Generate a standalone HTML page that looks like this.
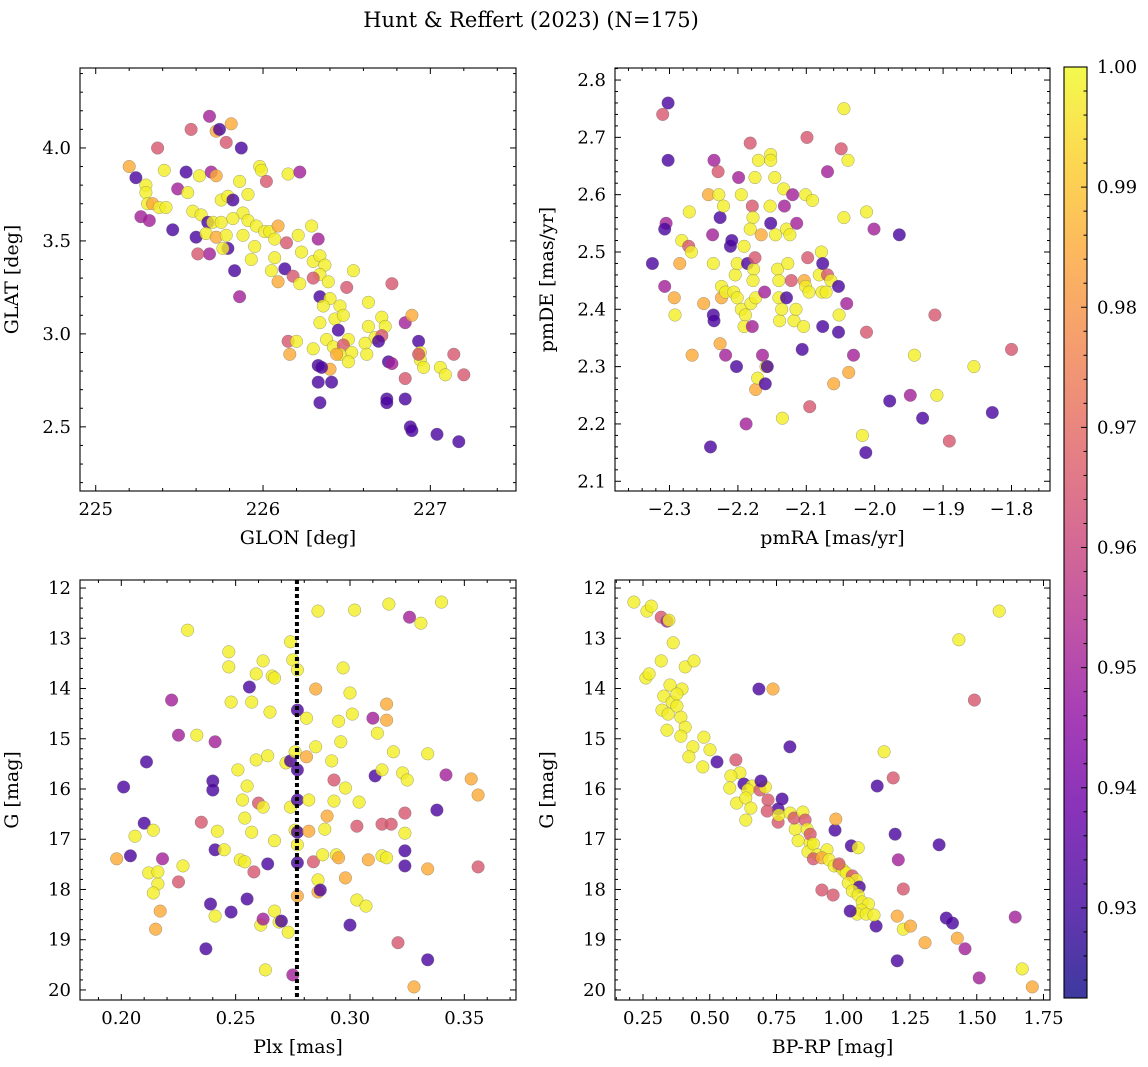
<!DOCTYPE html>
<html><head><meta charset="utf-8"><title>Hunt & Reffert (2023)</title>
<style>
html,body{margin:0;padding:0;background:#fff;}
svg{display:block;font-family:"DejaVu Serif","Liberation Serif",serif;}
</style></head>
<body>
<svg id="fig" width="1148" height="1067" viewBox="0 0 1148 1067" xmlns="http://www.w3.org/2000/svg">
<text x="531" y="27" font-size="21" text-anchor="middle">Hunt &amp; Reffert (2023) (N=175)</text>
</svg>
<script>
// ---- Panel 1: GLON vs GLAT ----
const p1Glon=[225.20,225.24,225.30,225.30,225.37,225.41,225.31,225.34,225.38,225.42,225.27,225.32,225.46,225.49,225.54,225.57,225.68,225.72,225.74,225.81,225.78,225.87,225.55,225.62,225.69,225.72,225.58,225.63,225.67,225.70,225.60,225.66,225.72,225.75,225.75,225.79,225.82,225.86,225.91,225.88,225.91,225.82,225.78,225.79,225.76,225.68,225.61,225.83,225.86,225.95,225.93,225.88,225.96,225.98,225.99,226.02,226.01,226.04,226.09,226.07,226.14,226.15,226.22,226.21,226.23,226.07,226.05,226.09,226.13,226.18,226.22,226.29,226.33,226.30,226.34,226.37,226.34,226.30,226.39,226.34,226.40,226.36,226.46,226.50,226.54,226.34,226.43,226.48,226.45,226.51,226.38,226.42,226.48,226.53,226.46,226.51,226.44,226.30,226.40,226.33,226.33,226.35,226.41,226.34,226.15,226.16,226.20,226.63,226.71,226.63,226.73,226.67,226.71,226.61,226.62,226.77,226.69,226.75,226.77,226.85,226.74,226.74,226.85,226.88,226.89,226.85,226.89,226.93,226.94,226.94,226.96,226.93,227.06,227.09,227.14,227.20,227.04,227.17];
const p1Glat=[3.90,3.84,3.80,3.76,4.00,3.88,3.70,3.70,3.68,3.68,3.63,3.61,3.56,3.78,3.87,4.10,4.17,4.09,4.10,4.13,4.03,4.00,3.76,3.85,3.87,3.85,3.66,3.64,3.60,3.60,3.52,3.54,3.52,3.60,3.72,3.74,3.72,3.82,3.75,3.65,3.61,3.62,3.53,3.46,3.46,3.43,3.43,3.34,3.20,3.47,3.40,3.53,3.58,3.90,3.88,3.82,3.55,3.55,3.58,3.51,3.49,3.86,3.87,3.53,3.44,3.41,3.34,3.28,3.35,3.31,3.27,3.58,3.51,3.39,3.42,3.37,3.32,3.30,3.28,3.20,3.19,3.15,3.15,3.25,3.34,3.06,3.08,3.10,3.02,2.97,2.97,2.93,2.94,2.90,2.89,2.85,2.89,2.92,2.81,2.83,2.74,2.82,2.74,2.63,2.96,2.89,2.96,3.17,3.09,3.04,3.04,2.98,2.99,2.95,2.89,3.27,2.96,2.85,2.84,2.76,2.65,2.63,2.65,2.50,2.48,3.06,3.10,2.96,2.90,2.86,2.82,2.89,2.82,2.78,2.89,2.78,2.46,2.42];
const p1Prob=[0.985,0.932,0.998,0.998,0.965,0.998,0.998,0.985,0.998,0.998,0.95,0.95,0.932,0.95,0.932,0.965,0.95,0.985,0.932,0.985,0.965,0.932,0.998,0.998,0.95,0.985,0.998,0.998,0.932,0.998,0.932,0.998,0.985,0.998,0.998,0.998,0.932,0.998,0.998,0.998,0.998,0.998,0.998,0.932,0.998,0.95,0.965,0.932,0.95,0.998,0.998,0.998,0.998,0.998,0.998,0.965,0.998,0.998,0.985,0.998,0.965,0.998,0.95,0.998,0.998,0.998,0.998,0.985,0.932,0.965,0.998,0.998,0.95,0.998,0.998,0.998,0.998,0.965,0.998,0.932,0.998,0.998,0.998,0.965,0.998,0.998,0.998,0.998,0.932,0.998,0.998,0.998,0.965,0.998,0.998,0.998,0.985,0.998,0.985,0.932,0.932,0.932,0.932,0.932,0.965,0.985,0.998,0.998,0.998,0.998,0.998,0.998,0.965,0.998,0.998,0.965,0.932,0.932,0.95,0.965,0.932,0.932,0.932,0.932,0.932,0.95,0.985,0.932,0.998,0.998,0.998,0.965,0.998,0.998,0.965,0.965,0.932,0.932];
const p1XTicks=[225,226,227];
const p1YTicks=[2.5,3.0,3.5,4.0];

// ---- Panel 2: pmRA vs pmDE ----
const p2PmRA=[-2.302,-2.310,-2.302,-2.305,-2.307,-2.325,-2.307,-2.293,-2.285,-2.282,-2.292,-2.271,-2.272,-2.268,-2.267,-2.250,-2.243,-2.240,-2.236,-2.235,-2.236,-2.237,-2.235,-2.229,-2.228,-2.226,-2.221,-2.224,-2.224,-2.226,-2.218,-2.202,-2.211,-2.209,-2.218,-2.206,-2.204,-2.201,-2.199,-2.195,-2.191,-2.186,-2.201,-2.195,-2.189,-2.181,-2.191,-2.179,-2.188,-2.182,-2.179,-2.178,-2.182,-2.177,-2.178,-2.174,-2.175,-2.175,-2.174,-2.171,-2.164,-2.170,-2.166,-2.161,-2.160,-2.159,-2.157,-2.152,-2.152,-2.146,-2.153,-2.152,-2.145,-2.142,-2.140,-2.140,-2.139,-2.136,-2.135,-2.133,-2.132,-2.129,-2.124,-2.127,-2.129,-2.122,-2.118,-2.115,-2.120,-2.114,-2.106,-2.104,-2.103,-2.101,-2.099,-2.098,-2.101,-2.096,-2.095,-2.091,-2.081,-2.078,-2.076,-2.076,-2.077,-2.071,-2.069,-2.069,-2.064,-2.060,-2.053,-2.053,-2.052,-2.049,-2.045,-2.045,-2.039,-2.038,-2.041,-2.031,-2.012,-2.018,-2.013,-2.012,-2.001,-1.978,-1.964,-1.948,-1.942,-1.930,-1.912,-1.909,-1.891,-1.855,-1.828,-1.800];
const p2PmDE=[2.76,2.74,2.66,2.55,2.54,2.48,2.44,2.42,2.48,2.52,2.39,2.57,2.51,2.50,2.32,2.41,2.60,2.16,2.39,2.38,2.48,2.53,2.66,2.64,2.60,2.56,2.58,2.42,2.44,2.34,2.32,2.30,2.51,2.52,2.43,2.43,2.46,2.48,2.63,2.60,2.51,2.48,2.42,2.40,2.39,2.41,2.37,2.37,2.20,2.69,2.58,2.56,2.54,2.47,2.45,2.42,2.49,2.63,2.26,2.28,2.32,2.66,2.53,2.43,2.27,2.30,2.30,2.67,2.66,2.63,2.58,2.55,2.53,2.47,2.45,2.42,2.38,2.40,2.21,2.61,2.58,2.54,2.53,2.48,2.42,2.45,2.38,2.40,2.60,2.55,2.33,2.37,2.45,2.60,2.70,2.49,2.44,2.43,2.23,2.59,2.46,2.50,2.48,2.37,2.43,2.43,2.64,2.46,2.45,2.27,2.44,2.36,2.39,2.68,2.75,2.56,2.66,2.29,2.41,2.32,2.57,2.18,2.15,2.36,2.54,2.24,2.53,2.25,2.32,2.21,2.39,2.25,2.17,2.30,2.22,2.33];
const p2Prob=[0.932,0.965,0.932,0.95,0.932,0.932,0.95,0.985,0.985,0.998,0.998,0.998,0.965,0.998,0.985,0.985,0.985,0.932,0.932,0.932,0.998,0.95,0.95,0.965,0.998,0.932,0.998,0.985,0.998,0.985,0.95,0.932,0.932,0.932,0.998,0.998,0.998,0.998,0.95,0.998,0.998,0.932,0.998,0.998,0.998,0.998,0.998,0.95,0.95,0.965,0.965,0.998,0.998,0.998,0.998,0.998,0.965,0.998,0.985,0.998,0.95,0.998,0.985,0.95,0.932,0.998,0.932,0.998,0.998,0.998,0.998,0.932,0.998,0.998,0.998,0.998,0.998,0.998,0.998,0.998,0.95,0.998,0.998,0.998,0.932,0.965,0.998,0.998,0.95,0.95,0.932,0.998,0.985,0.998,0.965,0.965,0.998,0.998,0.965,0.998,0.998,0.998,0.932,0.932,0.998,0.998,0.95,0.965,0.998,0.985,0.932,0.932,0.998,0.965,0.998,0.998,0.998,0.985,0.95,0.95,0.998,0.998,0.932,0.965,0.95,0.932,0.932,0.95,0.998,0.932,0.965,0.998,0.965,0.998,0.932,0.965];
const p2XTicks=[-2.3,-2.2,-2.1,-2.0,-1.9,-1.8];
const p2YTicks=[2.1,2.2,2.3,2.4,2.5,2.6,2.7,2.8];

// ---- Panel 3: Plx vs G ----
const p3Plx=[0.198,0.201,0.204,0.206,0.211,0.210,0.214,0.216,0.217,0.215,0.212,0.214,0.216,0.218,0.222,0.225,0.225,0.227,0.229,0.233,0.235,0.237,0.239,0.240,0.240,0.241,0.241,0.241,0.242,0.245,0.247,0.247,0.248,0.248,0.251,0.252,0.253,0.254,0.254,0.255,0.255,0.256,0.257,0.257,0.258,0.259,0.259,0.260,0.261,0.262,0.262,0.262,0.263,0.264,0.264,0.265,0.266,0.267,0.267,0.267,0.269,0.270,0.272,0.273,0.274,0.274,0.275,0.274,0.275,0.276,0.276,0.277,0.277,0.277,0.277,0.277,0.277,0.277,0.277,0.281,0.281,0.282,0.282,0.284,0.285,0.285,0.286,0.286,0.286,0.287,0.288,0.289,0.290,0.292,0.293,0.293,0.294,0.295,0.295,0.296,0.297,0.298,0.298,0.300,0.300,0.301,0.302,0.303,0.303,0.304,0.307,0.308,0.310,0.311,0.312,0.314,0.314,0.314,0.316,0.316,0.316,0.317,0.318,0.319,0.321,0.323,0.324,0.324,0.324,0.324,0.325,0.326,0.328,0.331,0.334,0.334,0.334,0.338,0.340,0.342,0.353,0.356,0.356];
const p3G=[17.39,15.96,17.33,16.94,15.46,16.68,16.82,17.89,18.43,18.79,17.67,18.07,17.65,17.39,14.23,14.93,17.85,17.53,12.84,14.93,16.66,19.18,18.29,15.84,16.02,18.53,17.21,15.06,16.84,17.21,13.27,13.57,14.27,18.45,15.62,17.41,16.22,17.45,16.58,15.94,18.19,13.97,14.27,16.86,17.65,15.42,13.71,16.28,18.71,16.36,18.59,13.45,19.60,15.34,17.49,14.47,13.75,13.79,17.03,18.43,18.65,18.63,15.48,18.85,15.44,16.36,19.70,13.07,13.43,15.26,16.82,13.63,14.43,15.62,16.22,16.86,17.11,17.47,18.13,15.36,14.59,16.84,16.22,17.45,14.01,15.16,17.81,12.46,18.05,18.01,17.31,16.80,16.54,15.44,15.82,16.24,17.31,17.37,14.65,15.06,13.59,17.77,15.98,14.09,18.71,14.51,12.44,16.74,18.21,16.26,18.33,17.41,14.59,15.74,14.89,16.70,17.33,15.62,14.31,14.63,17.37,12.32,16.70,15.26,19.06,15.68,16.48,16.88,17.53,17.23,15.82,12.58,19.94,12.70,19.40,15.30,17.59,16.42,12.28,15.72,15.80,16.12,17.55];
const p3Prob=[0.985,0.932,0.932,0.998,0.932,0.932,0.998,0.998,0.985,0.985,0.998,0.998,0.998,0.95,0.95,0.95,0.965,0.998,0.998,0.998,0.965,0.932,0.932,0.932,0.932,0.998,0.932,0.95,0.998,0.998,0.998,0.998,0.998,0.932,0.998,0.998,0.998,0.998,0.998,0.998,0.932,0.932,0.998,0.998,0.965,0.998,0.998,0.965,0.998,0.998,0.95,0.998,0.998,0.998,0.932,0.998,0.998,0.998,0.998,0.998,0.998,0.932,0.998,0.998,0.932,0.998,0.95,0.998,0.998,0.998,0.998,0.998,0.932,0.932,0.932,0.932,0.998,0.932,0.985,0.985,0.998,0.985,0.998,0.965,0.985,0.998,0.998,0.998,0.985,0.932,0.998,0.998,0.985,0.998,0.965,0.998,0.998,0.985,0.998,0.998,0.998,0.985,0.998,0.998,0.932,0.998,0.998,0.965,0.998,0.998,0.998,0.985,0.95,0.932,0.998,0.965,0.998,0.998,0.985,0.985,0.998,0.998,0.965,0.998,0.965,0.998,0.965,0.998,0.932,0.932,0.998,0.95,0.985,0.998,0.932,0.998,0.985,0.932,0.998,0.95,0.985,0.985,0.965];
const p3Median=[0.2768];
const p3XTicks=[0.20,0.25,0.30,0.35];
const gTicks=[12,13,14,15,16,17,18,19,20];

// ---- Panel 4: BP-RP vs G ----
const p4Color=[0.216,0.265,0.281,0.318,0.340,0.347,0.261,0.273,0.318,0.363,0.408,0.441,0.396,0.351,0.328,0.359,0.377,0.321,0.344,0.377,0.392,0.340,0.408,0.392,0.437,0.478,0.422,0.501,0.527,0.474,0.598,0.613,0.579,0.628,0.658,0.643,0.688,0.708,0.692,0.575,0.601,0.635,0.654,0.718,0.756,0.715,0.756,0.771,0.759,0.801,0.820,0.816,0.831,0.849,0.857,0.865,0.876,0.868,0.876,0.888,0.903,0.888,0.939,0.920,0.947,0.966,0.984,0.999,1.011,0.969,0.972,1.034,1.048,1.019,1.060,1.034,1.056,1.071,1.094,1.067,1.052,1.086,0.984,1.030,1.056,0.962,1.026,1.123,1.115,1.202,1.225,1.252,1.225,1.206,1.194,1.187,1.153,1.127,1.202,1.306,1.386,1.409,1.427,1.456,1.509,1.644,1.670,1.708,1.433,1.584,1.491,1.359,0.684,0.737,0.800,0.635,0.920];
const p4G=[12.28,12.46,12.36,12.58,12.66,12.64,13.79,13.71,13.45,13.09,13.57,13.45,14.01,13.93,14.15,14.27,14.11,14.43,14.51,14.35,14.57,14.83,14.77,14.95,15.16,14.97,15.36,15.22,15.46,15.56,15.42,15.68,15.74,15.90,15.94,16.02,16.02,15.96,15.84,15.98,16.28,16.18,16.38,16.22,16.40,16.44,16.66,16.20,16.52,16.48,16.80,16.58,17.03,16.46,16.62,16.80,17.07,17.25,16.90,17.09,17.31,17.39,17.21,17.37,17.41,17.53,17.53,17.61,17.67,16.82,16.60,17.73,17.81,17.87,17.95,18.03,18.11,18.25,18.29,18.41,18.49,18.49,17.49,17.13,17.17,18.11,18.43,18.73,18.51,18.53,18.79,18.73,17.99,17.41,16.90,15.78,15.26,15.94,19.42,19.06,18.57,18.67,18.97,19.18,19.76,18.55,19.58,19.94,13.03,12.46,14.23,17.11,14.01,14.01,15.16,16.62,18.01];
const p4Prob=[0.998,0.998,0.998,0.965,0.95,0.998,0.998,0.998,0.998,0.998,0.998,0.998,0.998,0.998,0.998,0.998,0.998,0.998,0.998,0.998,0.998,0.998,0.998,0.998,0.998,0.998,0.998,0.998,0.932,0.998,0.965,0.998,0.998,0.932,0.998,0.998,0.965,0.998,0.932,0.998,0.998,0.998,0.998,0.965,0.932,0.965,0.965,0.932,0.998,0.998,0.998,0.965,0.998,0.998,0.965,0.998,0.998,0.998,0.965,0.998,0.998,0.965,0.998,0.985,0.998,0.998,0.998,0.998,0.998,0.932,0.985,0.965,0.998,0.998,0.932,0.998,0.998,0.998,0.998,0.998,0.998,0.998,0.965,0.932,0.998,0.965,0.932,0.932,0.998,0.985,0.998,0.985,0.965,0.95,0.932,0.965,0.998,0.932,0.932,0.985,0.932,0.932,0.985,0.95,0.95,0.95,0.998,0.985,0.998,0.998,0.965,0.932,0.932,0.985,0.932,0.998,0.965];
const p4XTicks=[0.25,0.50,0.75,1.00,1.25,1.50,1.75];

// ---- Colorbar ----
const cbTicks=[0.93,0.94,0.95,0.96,0.97,0.98,0.99,1.00];
const cbRange=[0.9225,1.0];

const NS='http://www.w3.org/2000/svg';
const svg=document.getElementById('fig');
const PLASMA=['#0d0887','#41049d','#6a00a8','#8f0da4','#b12a90','#cc4778','#e16462','#f2844b','#fca636','#fcce25','#f0f921'];
function hex(h){return [parseInt(h.substr(1,2),16),parseInt(h.substr(3,2),16),parseInt(h.substr(5,2),16)];}
function plasma(t){t=Math.max(0,Math.min(1,t));const f=t*10,i=Math.min(9,Math.floor(f)),u=f-i;const a=hex(PLASMA[i]),b=hex(PLASMA[i+1]);return 'rgb('+a.map((v,k)=>Math.round(v+(b[k]-v)*u)).join(',')+')';}
function probColor(p){return plasma((p-cbRange[0])/(cbRange[1]-cbRange[0]));}
function mk(tag,attrs,parent){const e=document.createElementNS(NS,tag);for(const k in attrs)e.setAttribute(k,attrs[k]);(parent||svg).appendChild(e);return e;}
function fmt(v,d){return (v<0?'\u2212':'')+Math.abs(v).toFixed(d);}
function range(a,b,s){const r=[];for(let v=a;v<=b+1e-9;v+=s)r.push(Math.round(v/s)*s);return r;}

function panel(o){
  const g=mk('g',{});
  
  
  const L=o.box[0],T=o.box[1],R=o.box[2],B=o.box[3];
  const sx=v=>L+(v-o.xd[0])/(o.xd[1]-o.xd[0])*(R-L);
  const sy=o.inv?(v=>T+(v-o.yd[0])/(o.yd[1]-o.yd[0])*(B-T)):(v=>B-(v-o.yd[0])/(o.yd[1]-o.yd[0])*(B-T));
  const cg=mk('g',{},g);
  
  
  const n=Math.min(o.xs.length,o.ys.length,o.ps.length);
  for(let i=0;i<n;i++){
    const c=mk('circle',{cx:sx(o.xs[i]).toFixed(1),cy:sy(o.ys[i]).toFixed(1),r:6.3,fill:probColor(o.ps[i]),'fill-opacity':0.8,stroke:'#666','stroke-width':0.5,'stroke-opacity':0.6},cg);
    
    
  }
  if(o.vline){for(const v of o.vline){
    const ln=mk('line',{x1:sx(v),x2:sx(v),y1:T,y2:B,stroke:'#000','stroke-width':4,'stroke-dasharray':'4 3'},g);
    
    
  }}
  const fr=mk('rect',{x:L,y:T,width:R-L,height:B-T,fill:'none',stroke:'#000','stroke-width':1.1},g);
  
  
  const tg=mk('g',{stroke:'#000','stroke-width':1},g);
  
  
  const isMaj=(v,arr)=>arr.some(m=>Math.abs(m-v)<1e-6);
  for(const v of o.xminor){ if(v<o.xd[0]||v>o.xd[1]||isMaj(v,o.xt))continue; const x=sx(v);
    mk('line',{x1:x,x2:x,y1:B,y2:B-3},tg); mk('line',{x1:x,x2:x,y1:T,y2:T+3},tg);}
  for(const v of o.yminor){ const lo=Math.min(o.yd[0],o.yd[1]),hi=Math.max(o.yd[0],o.yd[1]); if(v<lo||v>hi||isMaj(v,o.yt))continue; const y=sy(v);
    mk('line',{x1:L,x2:L+3,y1:y,y2:y},tg); mk('line',{x1:R,x2:R-3,y1:y,y2:y},tg);}
  for(const v of o.xt){const x=sx(v);
    mk('line',{x1:x,x2:x,y1:B,y2:B-6},tg); mk('line',{x1:x,x2:x,y1:T,y2:T+6},tg);
    const t=mk('text',{x:x,y:B+24,'font-size':18,'text-anchor':'middle'},g); t.textContent=fmt(v,o.xdp);
    
    }
  for(const v of o.yt){const y=sy(v);
    mk('line',{x1:L,x2:L+6,y1:y,y2:y},tg); mk('line',{x1:R,x2:R-6,y1:y,y2:y},tg);
    const t=mk('text',{x:L-9,y:y+6,'font-size':18,'text-anchor':'end'},g); t.textContent=fmt(v,o.ydp);
    
    }
  const xl=mk('text',{x:(L+R)/2,y:B+53,'font-size':19,'text-anchor':'middle'},g); xl.textContent=o.xlabel;
  
  
  const yx=L-62,yy=(T+B)/2;
  const yl=mk('text',{x:yx,y:yy,'font-size':19,'text-anchor':'middle',transform:'rotate(-90 '+yx+' '+yy+')'},g); yl.textContent=o.ylabel;
  
  
}

panel({name:'glon-glat-panel',box:[80,68,516,491],xd:[224.906,227.512],yd:[2.155,4.43],inv:false,xs:p1Glon,ys:p1Glat,ps:p1Prob,xt:p1XTicks,yt:p1YTicks,xminor:range(225,227.4,0.2),yminor:range(2.2,4.4,0.1),xdp:0,ydp:1,xlabel:'GLON [deg]',ylabel:'GLAT [deg]'});
panel({name:'proper-motion-panel',box:[615,68,1050,491],xd:[-2.3797,-1.7437],yd:[2.083,2.821],inv:false,xs:p2PmRA,ys:p2PmDE,ps:p2Prob,xt:p2XTicks,yt:p2YTicks,xminor:range(-2.38,-1.74,0.02),yminor:range(2.08,2.82,0.02),xdp:1,ydp:1,xlabel:'pmRA [mas/yr]',ylabel:'pmDE [mas/yr]'});
panel({name:'parallax-magnitude-panel',box:[80,580,516,1000],xd:[0.18194,0.37259],yd:[11.84,20.2],inv:true,xs:p3Plx,ys:p3G,ps:p3Prob,xt:p3XTicks,yt:gTicks,xminor:range(0.19,0.37,0.01),yminor:range(12,20.2,0.2),xdp:2,ydp:0,xlabel:'Plx [mas]',ylabel:'G [mag]',vline:p3Median});
panel({name:'color-magnitude-panel',box:[615,580,1050,1000],xd:[0.1451,1.7743],yd:[11.84,20.2],inv:true,xs:p4Color,ys:p4G,ps:p4Prob,xt:p4XTicks,yt:gTicks,xminor:range(0.15,1.75,0.05),yminor:range(12,20.2,0.2),xdp:2,ydp:0,xlabel:'BP-RP [mag]',ylabel:'G [mag]'});

// colorbar
(function(){
  const L=1064,R=1087,T=67,B=998;
  const cy=v=>B-(v-cbRange[0])/(cbRange[1]-cbRange[0])*(B-T);
  const g=mk('g',{});
  
  
  const defs=mk('defs',{},g);
  const lg=mk('linearGradient',{id:'cbg',x1:0,y1:1,x2:0,y2:0},defs);
  PLASMA.forEach((c,i)=>mk('stop',{offset:(i/10),'stop-color':c},lg));
  const r=mk('rect',{x:L,y:T,width:R-L,height:B-T,fill:'url(#cbg)','fill-opacity':0.8,stroke:'#000','stroke-width':1.1},g);
  
  
  for(const v of range(0.924,1.0,0.002)){const y=cy(v);
    const maj=cbTicks.some(m=>Math.abs(m-v)<1e-6);
    mk('line',{x1:R,x2:R-(maj?6:3.5),y1:y,y2:y,stroke:'#000','stroke-width':1},g);}
  for(const v of cbTicks){
    const t=mk('text',{x:R+10,y:cy(v)+6,'font-size':18},g); t.textContent=v.toFixed(2);
    
    
  }
})();
</script>
</body></html>
